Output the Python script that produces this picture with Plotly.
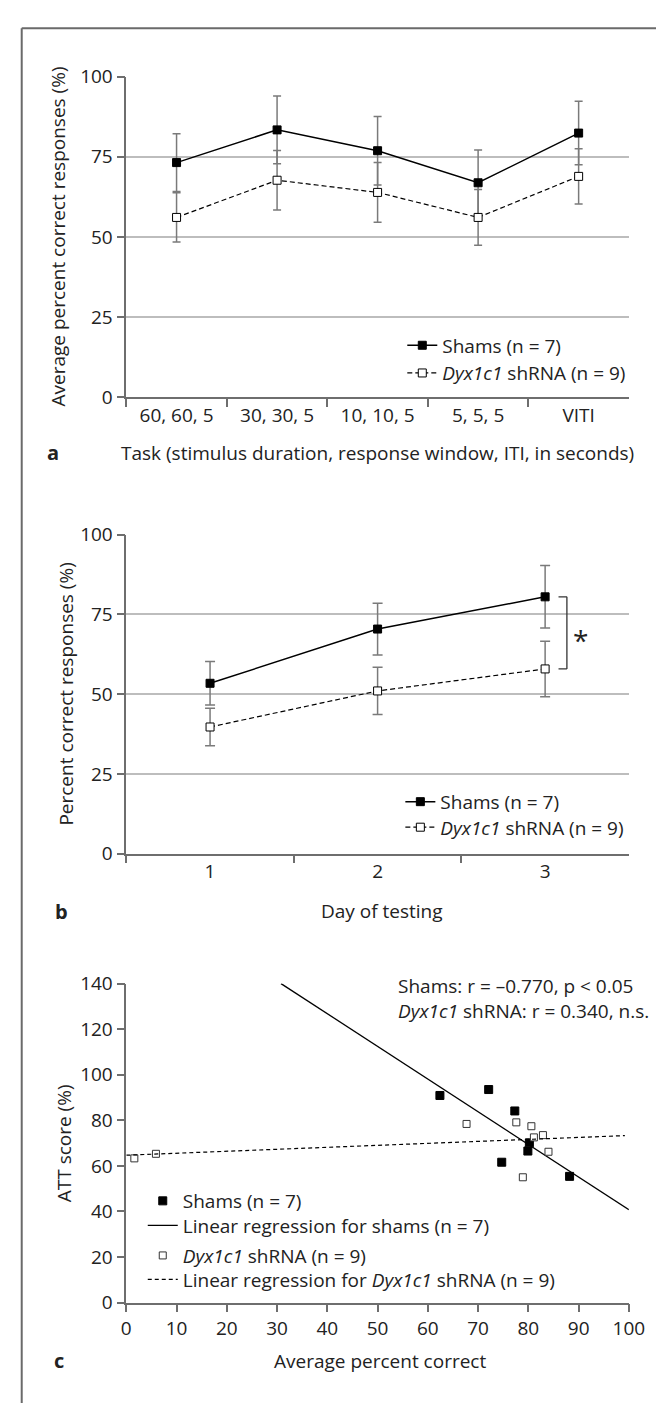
import numpy as np
import plotly.graph_objects as go

W, H = 664, 1408

# ---------------- data ----------------
tasks = ["60, 60, 5", "30, 30, 5", "10, 10, 5", "5, 5, 5", "VITI"]
shams_a = [73.2, 83.4, 76.9, 66.9, 82.4]
shams_a_err = [9.0, 10.6, 10.7, 10.2, 9.9]
dyx_a = [56.1, 67.7, 63.9, 56.1, 68.9]
dyx_a_err = [7.7, 9.3, 9.3, 8.7, 8.6]

days = ["1", "2", "3"]
shams_b = [53.4, 70.4, 80.5]
shams_b_err = [6.8, 8.1, 9.8]
dyx_b = [39.7, 51.0, 57.9]
dyx_b_err = [5.9, 7.4, 8.7]

shams_c_x = [62.4, 72.1, 77.3, 74.7, 80.2, 79.9, 88.2]
shams_c_y = [90.9, 93.5, 84.1, 61.6, 70.1, 66.5, 55.4]
dyx_c_x = [1.6, 5.9, 67.7, 77.6, 80.6, 81.1, 82.9, 84.0, 78.9]
dyx_c_y = [63.3, 65.3, 78.4, 79.1, 77.4, 72.5, 73.5, 66.2, 55.0]

yticks_ab = [0, 25, 50, 75, 100]
xticks_c = list(range(0, 101, 10))
yticks_c = list(range(0, 141, 20))

# ---------------- helpers ----------------
def px(x):
    return x / W

def py(y):
    return 1 - y / H

FONT = "Open Sans"
FS = 19
TXT = "#222222"
AXC = "#6e6e6e"
GRIDC = "#bdbdbd"
ERRC = "#7a7a7a"
LEG_OFF = 18.85  # legend top -> first row text centre

fig = go.Figure()

sq_fill = dict(symbol="square", size=8, color="black", line=dict(color="black", width=1))
sq_open = dict(symbol="square", size=8, color="white", line=dict(color="black", width=1))

# Panel a
fig.add_trace(go.Scatter(x=tasks, y=shams_a, mode="lines+markers", name="Shams (n = 7)",
                         line=dict(color="black", width=1.5), marker=sq_fill,
                         error_y=dict(type="data", array=shams_a_err, color=ERRC, thickness=1.5, width=4),
                         xaxis="x", yaxis="y", legend="legend"))
fig.add_trace(go.Scatter(x=tasks, y=dyx_a, mode="lines+markers", name="<i>Dyx1c1</i> shRNA (n = 9)",
                         line=dict(color="black", width=1.2, dash="5px,3px"), marker=sq_open,
                         error_y=dict(type="data", array=dyx_a_err, color=ERRC, thickness=1.5, width=4),
                         xaxis="x", yaxis="y", legend="legend"))
# Panel b
fig.add_trace(go.Scatter(x=days, y=shams_b, mode="lines+markers", name="Shams (n = 7)",
                         line=dict(color="black", width=1.5), marker=sq_fill,
                         error_y=dict(type="data", array=shams_b_err, color=ERRC, thickness=1.5, width=5),
                         xaxis="x2", yaxis="y2", legend="legend2"))
fig.add_trace(go.Scatter(x=days, y=dyx_b, mode="lines+markers", name="<i>Dyx1c1</i> shRNA (n = 9)",
                         line=dict(color="black", width=1.2, dash="5px,3px"), marker=sq_open,
                         error_y=dict(type="data", array=dyx_b_err, color=ERRC, thickness=1.5, width=5),
                         xaxis="x2", yaxis="y2", legend="legend3"))

# Panel c
m_s, b_s = np.polyfit(shams_c_x, shams_c_y, 1)
m_d, b_d = np.polyfit(dyx_c_x, dyx_c_y, 1)
xs_line = np.array([(yticks_c[-1] - b_s) / m_s, xticks_c[-1]])
xd_line = np.array([xticks_c[0], 99.2])

fig.add_trace(go.Scatter(x=shams_c_x, y=shams_c_y, mode="markers", name="Shams (n = 7)",
                         marker=dict(symbol="square", size=8, color="black", line=dict(color="black", width=1)),
                         xaxis="x3", yaxis="y3", legend="legend4"))
fig.add_trace(go.Scatter(x=xs_line, y=m_s * xs_line + b_s, mode="lines",
                         name="Linear regression for shams (n = 7)",
                         line=dict(color="black", width=1.3),
                         xaxis="x3", yaxis="y3", legend="legend5"))
fig.add_trace(go.Scatter(x=dyx_c_x, y=dyx_c_y, mode="markers", name="<i>Dyx1c1</i> shRNA (n = 9)",
                         marker=dict(symbol="square", size=7, color="white", line=dict(color="#333", width=1)),
                         xaxis="x3", yaxis="y3", legend="legend6"))
fig.add_trace(go.Scatter(x=xd_line, y=m_d * xd_line + b_d, mode="lines",
                         name="Linear regression for <i>Dyx1c1</i> shRNA (n = 9)",
                         line=dict(color="black", width=1.2, dash="4px,3px"),
                         xaxis="x3", yaxis="y3", legend="legend7"))

xdom = [px(117), px(636)]
tickfont = dict(family=FONT, size=FS, color=TXT)

common_x = dict(showline=True, linecolor=AXC, linewidth=1.5, ticks="outside", ticklen=8,
                tickcolor=AXC, tickwidth=1.5, tickfont=tickfont, showgrid=False, zeroline=False,
                domain=xdom, fixedrange=True)
common_y = dict(showline=True, linecolor=AXC, linewidth=1.5, ticks="outside", ticklen=8,
                tickcolor=AXC, tickwidth=1.5, tickfont=tickfont, zeroline=False, fixedrange=True)

legfont = dict(family=FONT, size=FS, color=TXT)

def leg(xpix, centre):
    return dict(x=px(xpix), y=py(centre - LEG_OFF), xanchor="left", yanchor="top", font=legfont,
                bgcolor="rgba(0,0,0,0)", borderwidth=0, tracegroupgap=0)

fig.update_layout(
    width=W, height=H, autosize=False,
    margin=dict(l=0, r=0, t=0, b=0),
    paper_bgcolor="white", plot_bgcolor="white",
    font=dict(family=FONT, size=FS, color=TXT),
    showlegend=True,
    xaxis=dict(common_x, type="category", tickson="boundaries", range=[-0.5, 4.5], anchor="y"),
    yaxis=dict(common_y, domain=[py(383.4), py(56.7)], range=[0, 100], tickvals=yticks_ab,
               showgrid=True, gridcolor=GRIDC, gridwidth=1.5, anchor="x"),
    xaxis2=dict(common_x, type="category", tickson="boundaries", range=[-0.5, 2.5], anchor="y2"),
    yaxis2=dict(common_y, domain=[py(848.3), py(523.3)], range=[0, 100], tickvals=yticks_ab,
                showgrid=True, gridcolor=GRIDC, gridwidth=1.5, anchor="x2"),
    xaxis3=dict(common_x, range=[0, 100], tickvals=xticks_c, anchor="y3"),
    yaxis3=dict(common_y, domain=[py(1305.7), py(980.7)], range=[0, 140], tickvals=yticks_c,
                showgrid=False, anchor="x3"),
    legend=leg(402, 330),
    legend2=leg(400, 795),
    legend3=leg(400, 821),
    legend4=leg(134, 1201.7),
    legend5=leg(134, 1226.7),
    legend6=leg(134, 1257.3),
    legend7=leg(134, 1281.7),
)

ann = []
def add_text(text, x, y, size=FS, angle=0, bold=False, xanchor="center", yanchor="middle", align="center"):
    t = f"<b>{text}</b>" if bold else text
    ann.append(dict(text=t, x=px(x), y=py(y), xref="paper", yref="paper", showarrow=False,
                    textangle=angle, xanchor=xanchor, yanchor=yanchor, align=align,
                    font=dict(family=FONT, size=size, color=TXT)))

add_text("Average percent correct responses (%)", 46, 220, angle=-90)
add_text("Task (stimulus duration, response window, ITI, in seconds)", 376, 440)
add_text("a", 41, 440, size=20, bold=True)

add_text("Percent correct responses (%)", 55, 686, angle=-90)
add_text("Day of testing", 381, 907)
add_text("b", 50, 907, size=20, bold=True)

add_text("ATT score (%)", 53, 1143, angle=-90)
add_text("Average percent correct", 379, 1365)
add_text("c", 48, 1365, size=20, bold=True)

add_text("Shams: r = \u20130.770, p < 0.05<br><i>Dyx1c1</i> shRNA: r = 0.340, n.s.", 396, 996,
         xanchor="left", align="left")

# significance star in panel b
ann.append(dict(text="*", x=2.21, y=67.0, xref="x2", yref="y2", showarrow=False,
                xanchor="center", yanchor="middle", font=dict(family=FONT, size=28, color=TXT)))

fig.update_layout(annotations=ann)

shapes = [
    # frame (top and left)
    dict(type="line", xref="paper", yref="paper", x0=px(9), x1=1, y0=py(7.5), y1=py(7.5),
         line=dict(color="#6a6a6a", width=2)),
    dict(type="line", xref="paper", yref="paper", x0=px(9), x1=px(9), y0=py(7.5), y1=0,
         line=dict(color="#6a6a6a", width=2)),
    # bracket in panel b
    dict(type="line", xref="x2", yref="y2", x0=2.08, x1=2.13, y0=shams_b[2], y1=shams_b[2],
         line=dict(color="#333", width=1.3)),
    dict(type="line", xref="x2", yref="y2", x0=2.13, x1=2.13, y0=shams_b[2], y1=dyx_b[2],
         line=dict(color="#333", width=1.3)),
    dict(type="line", xref="x2", yref="y2", x0=2.08, x1=2.13, y0=dyx_b[2], y1=dyx_b[2],
         line=dict(color="#333", width=1.3)),
]
fig.update_layout(shapes=shapes)

fig.write_html("out.html")
